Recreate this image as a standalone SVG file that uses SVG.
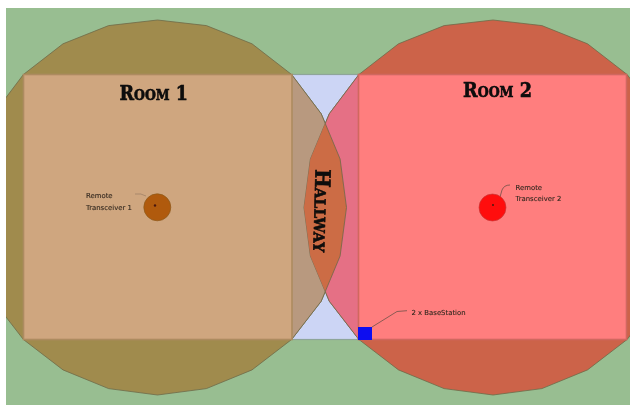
<svg xmlns="http://www.w3.org/2000/svg" xmlns:xlink="http://www.w3.org/1999/xlink" width="630" height="405" viewBox="0 0 630 405">
<style>
.edge{stroke:#6e6a48;stroke-opacity:.8;stroke-width:1;stroke-linejoin:round}
.room{stroke-width:1.6}
.title{font-family:"DejaVu Serif","Liberation Serif",serif;font-weight:700;font-variant:small-caps;fill:#0a0a0a;stroke:#0a0a0a;stroke-width:.6}
.lab{font-family:"DejaVu Sans",sans-serif;font-size:6.9px;fill:#33281f;stroke:#33281f;stroke-width:.12}
.lead{fill:none;stroke:#5a4a40;stroke-width:.7}
.dot{fill:#4a1808}
</style>
<defs>
<polygon id="c" points="157.5,20 206.4,25.6 252,43.8 291.6,74.5 321.2,113.75 340.1,159 346.5,207.5 340.1,256 321.2,301.25 291.6,339.5 252,369.9 206.4,388.6 157.5,395 108.6,388.6 63,369.9 23.4,339.5 -6.2,301.25 -25.1,256 -31.5,207.5 -25.1,159 -6.2,113.75 23.4,74.5 63,43.8 108.6,25.6"/>
<clipPath id="hallClip"><rect x="292" y="74.5" width="66.5" height="265"/></clipPath>
<clipPath id="c2Clip"><use xlink:href="#c" transform="translate(335.5,0)"/></clipPath>
<clipPath id="frame"><rect x="6" y="8" width="624" height="397"/></clipPath>
<filter id="soft" x="0" y="0" width="1" height="1"><feGaussianBlur stdDeviation="0.5"/></filter>
</defs>
<rect width="630" height="405" fill="#ffffff"/>
<g filter="url(#soft)">
<g clip-path="url(#frame)">
<rect x="6" y="8" width="624" height="397" fill="#98BE91"/>
<g id="hall">
<rect x="292" y="74.5" width="66.5" height="265" fill="#CCD5F5" stroke="#8ea59a" stroke-width="1.2"/>
</g>
<g id="coverage1"><use xlink:href="#c" fill="#A08B4E" class="edge"/></g>
<g id="coverage2"><use xlink:href="#c" transform="translate(335.5,0)" fill="#CC6349" class="edge"/></g>
<g clip-path="url(#hallClip)">
<use xlink:href="#c" fill="#B8997F" class="edge"/>
<use xlink:href="#c" transform="translate(335.5,0)" fill="#E56F85" class="edge"/>
<g clip-path="url(#c2Clip)"><use xlink:href="#c" fill="#CC6C44" class="edge"/></g>
</g>
<g id="room1"><rect class="room" x="23.5" y="74.5" width="268.5" height="265" fill="#CFA67F" stroke="#ad8b60"/></g>
<g id="room2"><rect class="room" x="358.5" y="74.5" width="268" height="265" fill="#FF7E7E" stroke="#d0675f"/></g>
</g>
<g id="connectors">
<path class="lead" stroke-opacity=".45" d="M135,194 Q141,193 146,196"/>
<path class="lead" d="M510,185 Q504,185 502,190 L500,197"/>
<path class="lead" d="M407,310.7 L397,311.5 L372,327"/>
</g>
<g id="transceiver1">
<circle cx="157.3" cy="207.3" r="13.5" fill="#B05A08" stroke="#8d5a20" stroke-width=".7"/>
<circle class="dot" cx="155" cy="205.5" r="1.2"/>
<text class="lab" x="86" y="198">Remote</text>
<text class="lab" x="86" y="210">Transceiver 1</text>
</g>
<g id="transceiver2">
<circle cx="492.5" cy="207.5" r="13.5" fill="#FF0D0D" stroke="#c83a3a" stroke-width=".7"/>
<circle class="dot" cx="493" cy="205" r="1"/>
<text class="lab" x="515.5" y="190">Remote</text>
<text class="lab" x="515.5" y="201">Transceiver 2</text>
</g>
<g id="basestation">
<rect x="358" y="327" width="14" height="13" fill="#0808F0"/>
<text class="lab" x="411.5" y="315">2 x BaseStation</text>
</g>
<text class="title" x="119.5" y="99.5" font-size="21" textLength="68.5" lengthAdjust="spacingAndGlyphs">Room 1</text>
<text class="title" x="463" y="96.5" font-size="21" textLength="69" lengthAdjust="spacingAndGlyphs">Room 2</text>
<text class="title" transform="translate(315.5,169) rotate(91.5)" x="0" y="0" font-size="21" textLength="83" lengthAdjust="spacingAndGlyphs">Hallway</text>
</g>
</svg>
